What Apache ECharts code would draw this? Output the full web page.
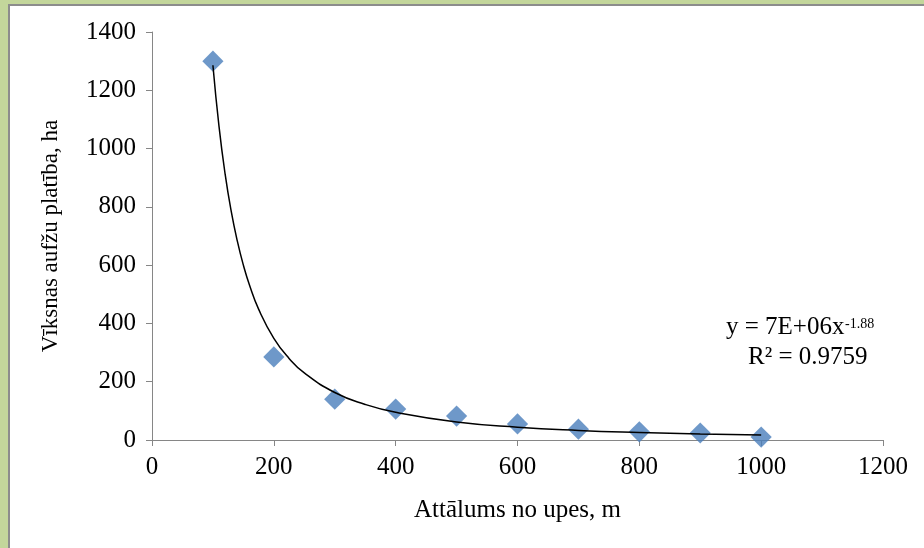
<!DOCTYPE html>
<html>
<head>
<meta charset="utf-8">
<script src="https://cdn.jsdelivr.net/npm/echarts@6/dist/echarts.min.js"></script>
<style>
    html, body { margin: 0; padding: 0; width: 924px; height: 548px; background: #c3d69b; overflow: hidden; }
    #frame { position: absolute; left: 8px; top: 4px; right: 0; bottom: 0; background: #fff; border-left: 2px solid #8c8c8c; border-top: 2px solid #8c8c8c; }
    #chart { position: absolute; left: 0; top: 0; width: 924px; height: 548px; }
</style>
</head>
<body>
<div id="frame"></div>
<div id="chart"></div>
<script>
// measured points
let distance = [100, 200, 300, 400, 500, 600, 700, 800, 900, 1000];
let area = [1300, 285, 140, 106, 82, 55, 37, 28, 24, 10];

// power trend line
let trendX = [100, 110, 120, 130, 140, 150, 160, 175, 200, 225, 250, 300, 350, 400, 500, 600, 700, 800, 900, 1000];
let trendY = [1286, 1076, 913, 785, 683, 600, 532, 449, 349, 280, 230, 163, 122, 95, 62, 44, 33, 26, 21, 17];

let xTicks = [0, 200, 400, 600, 800, 1000, 1200];
let yTicks = [0, 200, 400, 600, 800, 1000, 1200, 1400];

let font = '"Liberation Serif", "Times New Roman", serif';
let axisColor = '#868686';

let myChart = echarts.init(document.getElementById('chart'));

let trendData = [];
for (let i = 0; i < trendX.length; i++) {
    trendData.push([trendX[i], trendY[i]]);
}
let pointData = [];
for (let i = 0; i < distance.length; i++) {
    pointData.push([distance[i], area[i]]);
}

let plainNumber = function (v) { return String(v); };

let option = {
    animation: false,
    grid: {
        left: 152,
        right: 41,
        top: 32,
        bottom: 108
    },
    xAxis: {
        type: 'value',
        min: xTicks[0],
        max: xTicks[xTicks.length - 1],
        interval: 200,
        name: 'Attālums no upes, m',
        nameLocation: 'middle',
        nameGap: 58,
        nameTextStyle: { fontFamily: font, fontSize: 25, color: '#000' },
        axisLine: { lineStyle: { color: axisColor, width: 1 } },
        axisTick: { show: true, length: 6, lineStyle: { color: axisColor } },
        axisLabel: { fontFamily: font, fontSize: 25, color: '#000', margin: 15, formatter: plainNumber },
        splitLine: { show: false }
    },
    yAxis: {
        type: 'value',
        min: yTicks[0],
        max: yTicks[yTicks.length - 1],
        interval: 200,
        name: 'Vīksnas aufžu platība, ha',
        nameLocation: 'middle',
        nameGap: 90,
        nameRotate: 90,
        nameTextStyle: { fontFamily: font, fontSize: 23, color: '#000' },
        axisLine: { show: true, lineStyle: { color: axisColor, width: 1 } },
        axisTick: { show: true, length: 6, lineStyle: { color: axisColor } },
        axisLabel: { fontFamily: font, fontSize: 25, color: '#000', margin: 16, formatter: plainNumber },
        splitLine: { show: false }
    },
    graphic: [
        {
            type: 'text',
            left: 726,
            top: 315,
            style: { text: 'y = 7E+06x', font: '25px ' + font, fill: '#000' }
        },
        {
            type: 'text',
            left: 845,
            top: 317,
            style: { text: '-1.88', font: '14px ' + font, fill: '#000' }
        },
        {
            type: 'text',
            left: 748,
            top: 345,
            style: { text: 'R² = 0.9759', font: '25px ' + font, fill: '#000' }
        }
    ],
    series: [
        {
            name: 'platība',
            type: 'scatter',
            symbol: 'rect',
            symbolSize: 15,
            symbolRotate: 45,
            itemStyle: { color: '#4a7ebb' },
            z: 2,
            data: pointData
        },
        {
            name: 'trend',
            type: 'line',
            smooth: true,
            showSymbol: false,
            lineStyle: { color: '#000', width: 1.5 },
            z: 3,
            data: trendData
        }
    ]
};
myChart.setOption(option);
</script>
</body>
</html>
